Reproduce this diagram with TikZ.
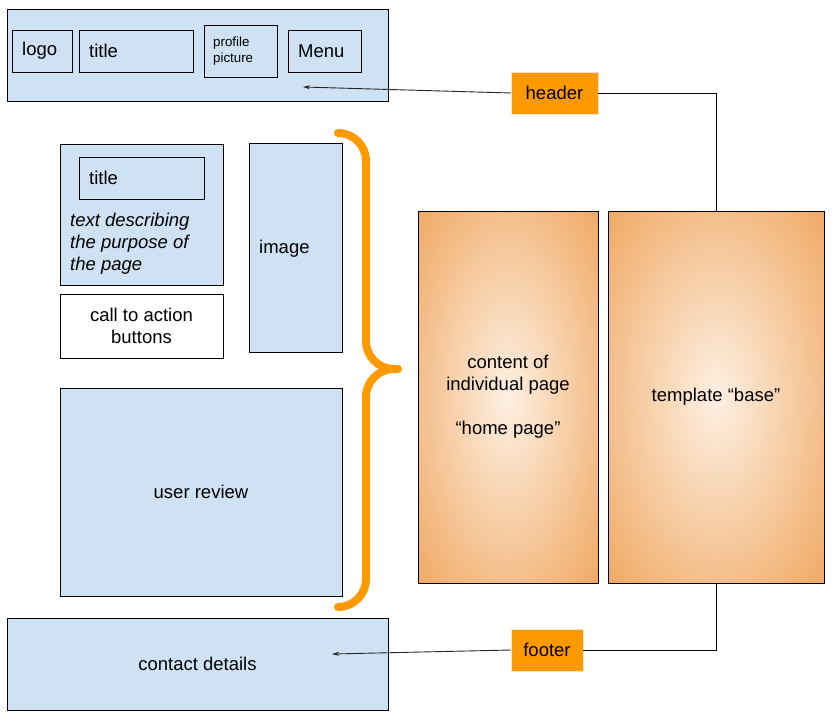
\documentclass[tikz,border=0pt]{standalone}
\usepackage{fontspec}
\setmainfont{Liberation Sans}
\usetikzlibrary{arrows.meta}
\definecolor{lblue}{HTML}{CFE2F3}
\definecolor{gorange}{HTML}{FF9900}
\definecolor{pale}{HTML}{FDF0E3}
\definecolor{deep}{HTML}{F0AA66}
\definecolor{lborder}{HTML}{FCE5CD}
\pgfdeclareradialshading{softglow}{\pgfpoint{0bp}{0bp}}{color(0bp)=(pale); color(35bp)=(deep); color(50bp)=(deep)}
\newcommand\fsmain{\fontsize{18.5}{22}\selectfont}
\newcommand\fssmall{\fontsize{13.3}{16}\selectfont}
\begin{document}
\begin{tikzpicture}[x=1pt,y=-1pt,
  rect/.style 2 args={minimum width=#1pt, minimum height=#2pt, inner sep=0pt, outer sep=0pt, anchor=north west},
  box/.style={draw=black, line width=0.9pt, fill=lblue, font=\fsmain, align=center},
  wbox/.style={draw=black, line width=0.9pt, fill=white, font=\fsmain, align=center},
  tag/.style={draw=lborder, line width=0.8pt, fill=gorange, font=\fsmain},
  grad/.style={draw=black, line width=0.9pt, shading=softglow, font=\fsmain, align=center},
  lbl/.style={font=\fsmain, inner sep=0pt, anchor=west, align=left},
  arr/.style={draw=black!85, line width=0.9pt, -{Stealth[length=7pt,width=4pt]}},
  conn/.style={draw=black, line width=0.9pt},
  brace/.style={draw=gorange, line width=8pt, line cap=round, line join=round}]
\useasboundingbox (0,0) rectangle (840,717);
% header
\node[box, rect={381}{92}] (hbox) at (7,9) {};
\node[box, rect={60}{42}] (logo) at (12,30) {};
\node[lbl] (logot) at (22,51) {logo};
\node[box, rect={114}{42}] (htitle) at (79,30) {};
\node[lbl] (htitlet) at (89,51) {title};
\node[box, rect={73}{52}] (prof) at (204,25) {};
\node[lbl, font=\fssmall] (proft) at (213,51) {profile\\picture};
\node[box, rect={73}{42}] (menu) at (288,30) {};
\node[lbl] (menut) at (298,51) {Menu};
% left content
\node[box, rect={163}{141}] (desc) at (60,144) {};
\node[box, rect={125}{42}] (dtitle) at (79,157) {};
\node[lbl] (dtitlet) at (89,178) {title};
\node[lbl, font=\fsmain\itshape] (desct) at (70,244) {text describing\\the purpose of\\the page};
\node[wbox, rect={163}{64}] (cta) at (60,294) {call to action\\buttons};
\node[box, rect={93}{209}] (img) at (249,143) {};
\node[lbl] (imgt) at (259,249) {image};
\node[box, rect={282}{208}] (review) at (60,388) {user review};
% footer
\node[box, rect={381}{92}] (fbox) at (7,618) {contact details};
% right
\node[grad, rect={180}{372}] (content) at (418,211) {content of\\individual page\\[22pt]\textquotedblleft home page\textquotedblright};
\node[grad, rect={216}{372}] (tmpl) at (608,211) {template \textquotedblleft base\textquotedblright};
\node[tag, rect={87}{42}, anchor=north west] (hdr) at (511,72) {header};
\node[tag, rect={72}{42}, anchor=north west] (ftr) at (511,629) {footer};
\coordinate (htip) at (303,87);
\coordinate (ftip) at (332,654);
\draw[arr] (hdr.west) -- (htip);
\draw[arr] (ftr.west) -- (ftip);
\draw[conn] (hdr.east) -| (tmpl.north);
\draw[conn] (ftr.east) -| (tmpl.south);
% brace
\draw[brace] (338,133) .. controls (353.5,133) and (366,145.5) .. (366,161)
  -- (366,341) .. controls (366,356.5) and (378.5,369) .. (394,369) -- (398,369)
  -- (394,369) .. controls (378.5,369) and (366,381.5) .. (366,397)
  -- (366,579) .. controls (366,594.5) and (353.5,607) .. (338,607);
\end{tikzpicture}
\end{document}
